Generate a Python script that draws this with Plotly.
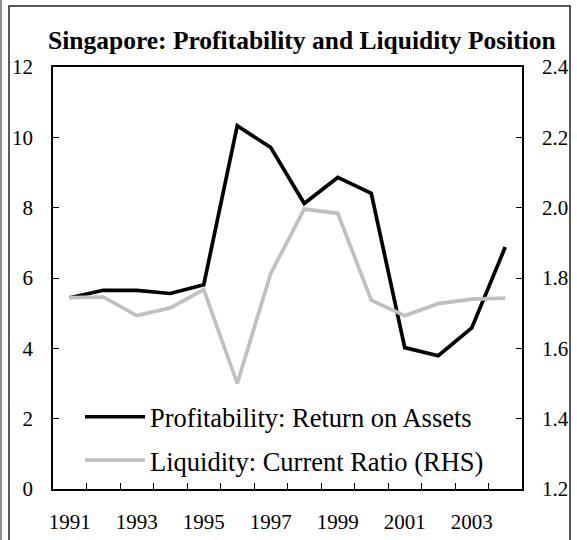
import plotly.graph_objects as go

years = [str(y) for y in range(1991, 2005)]
roa = [5.44, 5.65, 5.65, 5.56, 5.81, 10.33, 9.71, 8.12, 8.86, 8.41, 4.02, 3.79, 4.58, 6.88]
current_ratio = [1.744, 1.746, 1.693, 1.715, 1.767, 1.500, 1.813, 1.996, 1.984, 1.737, 1.693, 1.727, 1.740, 1.743]
x_ticktext = [y if int(y) % 2 == 1 else "" for y in years]

title_text = "Singapore: Profitability and Liquidity Position"
name_roa = "Profitability: Return on Assets"
name_cr = "Liquidity: Current Ratio (RHS)"

FONT = "Liberation Serif, Times New Roman, serif"
W, H = 577, 540
L, R, T, B = 53, 55, 67, 51
PW, PH = W - L - R, H - T - B

def px_x(x):
    return (x - L) / PW

def px_y(y):
    return (H - B - y) / PH

fig = go.Figure()
fig.add_trace(go.Scatter(x=years, y=roa, name=name_roa, mode="lines",
                         line=dict(color="#000000", width=3.7), legendgroup="a"))
fig.add_trace(go.Scatter(x=years, y=current_ratio, name=name_cr, mode="lines",
                         line=dict(color="#C0C0C0", width=3.7), yaxis="y2", legendgroup="b"))

fig.update_layout(
    width=W, height=H,
    margin=dict(l=L, r=R, t=T, b=B, pad=0, autoexpand=False),
    paper_bgcolor="white", plot_bgcolor="white",
    font=dict(family=FONT, size=20, color="black"),
    showlegend=True,
    legend=dict(x=px_x(80), y=px_y(393), xanchor="left", yanchor="top",
                bgcolor="rgba(0,0,0,0)", font=dict(size=26.5, family=FONT),
                traceorder="grouped", tracegroupgap=6, itemwidth=60),
    xaxis=dict(type="category", range=[-0.5, len(years) - 0.5], automargin=False,
               tickvals=years, ticktext=x_ticktext, tickson="boundaries",
               ticks="inside", ticklen=6, tickwidth=1.3, tickcolor="black", tickangle=0,
               showline=True, linecolor="black", linewidth=1.5, mirror=True,
               showgrid=False, zeroline=False, ticklabelstandoff=13,
               tickfont=dict(size=21, family=FONT)),
    yaxis=dict(range=[0, 12], dtick=2, ticks="inside", ticklen=6, tickwidth=1.3, tickcolor="black",
               showline=True, linecolor="black", linewidth=1.5, showgrid=False, zeroline=False,
               automargin=False, ticklabelstandoff=14, tickfont=dict(size=21, family=FONT)),
    yaxis2=dict(range=[1.2, 2.4], dtick=0.2, tickformat=".1f", overlaying="y", side="right",
                ticks="inside", ticklen=6, tickwidth=1.3, tickcolor="black",
                showline=True, linecolor="black", linewidth=1.5, showgrid=False, zeroline=False,
                automargin=False, ticklabelstandoff=14, tickfont=dict(size=21, family=FONT)),
    annotations=[dict(text="<b>" + title_text + "</b>", xref="paper", yref="paper",
                      x=px_x(302), y=px_y(40), xanchor="center", yanchor="middle",
                      showarrow=False, font=dict(size=25.5, family=FONT, color="black"))],
    shapes=[
        dict(type="rect", xref="paper", yref="paper", x0=px_x(9), x1=px_x(570),
             y0=px_y(560), y1=px_y(6), line=dict(color="#222", width=1.5), layer="above"),
        dict(type="line", xref="paper", yref="paper", x0=px_x(1), x1=px_x(1),
             y0=px_y(560), y1=px_y(-20), line=dict(color="#444", width=1.2), layer="above"),
    ],
)

fig.write_html("out.html", config={"displayModeBar": False},
               post_script="document.body.style.margin='0';document.body.style.overflow='hidden';")
